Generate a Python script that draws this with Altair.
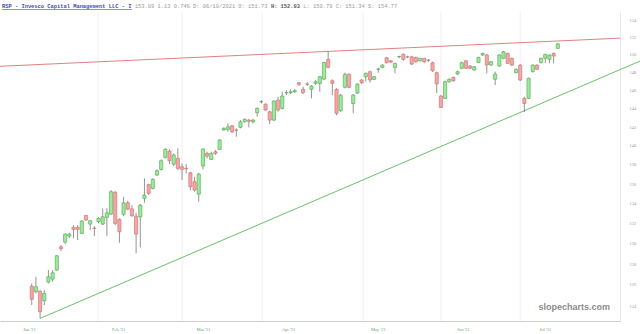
import altair as alt
import pandas as pd

# ---- daily candles (bar index, open, high, low, close) ----
opens = [125.89, 125.35, 125.42, 124.50, 126.28, 126.56, 127.43, 129.70, 130.16, 130.75,
         131.62, 131.62, 131.02, 132.82, 131.95, 131.55, 132.18, 131.95, 132.62, 132.95,
         135.16, 132.42, 132.92, 134.09, 133.48, 132.75, 132.68, 134.54, 135.95, 135.56,
         136.94, 137.53, 138.78, 139.45, 138.08, 138.68, 137.80, 137.64, 137.18, 136.25,
         134.98, 137.88, 139.21, 138.57, 139.38, 139.63, 141.69, 141.76, 142.15, 141.69,
         141.98, 142.62, 142.76, 142.58, 143.56, 144.75, 144.50, 143.66, 142.76, 144.94,
         144.03, 145.75, 145.75, 145.86, 146.86, 146.13, 146.72, 146.13, 146.79, 146.79,
         147.27, 149.48, 147.08, 146.13, 143.77, 146.35, 147.80, 144.57, 145.72, 147.16,
         147.53, 148.09, 147.24, 148.36, 148.58, 149.66, 149.32, 148.58, 149.77, 150.05,
         149.77, 149.77, 149.71, 149.32, 149.60, 149.40, 149.10, 147.98, 145.39, 145.13,
         146.97, 147.46, 147.83, 148.47, 149.32, 148.73, 148.28, 149.14, 149.97, 149.97,
         148.84, 147.24, 148.73, 149.60, 150.16, 149.60, 147.98, 148.84, 145.13, 145.13,
         148.09, 148.84, 149.10, 149.60, 149.48, 150.16, 150.74]
highs = [126.15, 126.79, 125.51, 125.51, 127.43, 127.43, 128.89, 129.87, 131.02, 131.08,
         131.85, 131.85, 132.35, 132.85, 132.35, 131.75, 132.62, 133.52, 133.52, 135.39,
         135.29, 132.52, 134.71, 134.30, 133.86, 133.08, 133.96, 136.60, 136.05, 136.60,
         137.53, 138.57, 139.74, 139.63, 139.21, 139.74, 138.16, 138.08, 137.28, 136.77,
         137.18, 139.74, 139.38, 139.38, 139.56, 140.70, 141.98, 142.40, 142.22, 141.87,
         142.76, 142.94, 142.90, 142.90, 144.14, 144.94, 144.57, 143.77, 144.94, 145.31,
         145.86, 146.05, 146.13, 146.16, 146.94, 146.42, 146.94, 146.60, 147.16, 147.61,
         149.21, 150.40, 147.24, 146.24, 145.61, 147.98, 147.91, 145.61, 146.79, 147.27,
         147.98, 148.20, 147.61, 148.54, 148.92, 149.77, 149.40, 149.10, 149.89, 150.16,
         149.89, 149.89, 149.77, 149.66, 149.66, 149.51, 149.21, 148.09, 145.49, 147.08,
         147.35, 147.53, 148.20, 149.21, 149.40, 148.84, 148.73, 149.77, 150.23, 150.09,
         149.29, 148.09, 150.05, 150.43, 150.23, 149.66, 148.47, 148.92, 145.31, 147.42,
         148.92, 148.92, 149.66, 150.12, 150.05, 150.23, 151.35]
lows = [124.10, 125.20, 122.85, 124.10, 126.15, 126.31, 127.36, 129.30, 129.96, 130.53,
        130.53, 130.36, 130.95, 132.28, 131.35, 130.75, 132.02, 131.85, 130.75, 132.85,
        131.85, 130.09, 132.75, 133.35, 132.68, 129.05, 129.64, 134.09, 134.88, 135.46,
        136.84, 137.39, 138.68, 138.08, 137.88, 137.46, 136.42, 137.12, 135.39, 135.22,
        134.20, 137.53, 138.68, 138.50, 139.03, 139.56, 141.62, 141.51, 141.40, 140.97,
        141.87, 142.47, 141.98, 142.40, 143.12, 144.57, 143.77, 142.33, 142.65, 143.66,
        143.92, 145.49, 145.61, 145.72, 146.49, 145.61, 146.49, 145.13, 146.60, 145.86,
        147.16, 148.47, 145.49, 143.30, 143.66, 146.24, 146.24, 143.49, 145.61, 146.72,
        146.97, 146.86, 147.16, 147.98, 148.50, 149.03, 149.06, 147.91, 149.63, 149.32,
        149.63, 148.84, 149.10, 149.21, 149.06, 149.17, 148.06, 145.72, 144.07, 145.05,
        146.86, 146.97, 147.72, 148.39, 148.39, 148.39, 148.20, 149.06, 149.86, 147.91,
        148.73, 146.60, 148.65, 149.51, 148.95, 148.73, 147.91, 147.05, 143.63, 145.05,
        148.02, 148.28, 149.03, 149.06, 149.03, 149.03, 150.66]
closes = [124.64, 125.83, 123.47, 125.20, 126.79, 127.17, 128.82, 129.50, 130.95, 130.95,
          131.42, 131.42, 132.25, 132.35, 132.28, 131.52, 132.52, 132.68, 133.08, 135.22,
          132.02, 131.18, 134.09, 133.45, 132.78, 130.95, 133.86, 134.88, 135.05, 136.49,
          137.39, 138.43, 139.63, 138.43, 139.03, 137.64, 137.53, 137.60, 135.73, 135.39,
          137.04, 139.67, 138.92, 139.21, 139.21, 140.62, 141.87, 142.04, 141.48, 141.66,
          142.58, 142.84, 142.62, 142.76, 144.03, 144.77, 143.85, 142.76, 144.83, 143.85,
          145.39, 145.77, 145.86, 145.97, 146.68, 145.75, 146.69, 146.49, 146.97, 147.53,
          149.14, 148.58, 146.79, 143.49, 145.49, 147.80, 146.35, 145.49, 146.72, 146.86,
          147.91, 147.16, 147.53, 148.38, 148.84, 149.10, 149.17, 149.03, 149.80, 149.48,
          149.75, 148.95, 149.21, 149.60, 149.21, 149.38, 148.20, 146.72, 144.14, 146.97,
          147.24, 147.08, 148.09, 149.10, 148.47, 148.47, 148.65, 149.71, 150.14, 148.84,
          149.21, 147.83, 149.97, 150.35, 149.03, 148.84, 148.36, 147.16, 144.57, 147.35,
          148.84, 148.36, 149.60, 150.05, 149.97, 149.86, 151.24]

# ---- axis labels / gridlines (in bar-index units) ----
month_labels = ["Jan '21", "Feb '21", "Mar '21", "Apr '21", "May '21", "Jun '21", "Jul '21"]
month_label_bars = [-0.65, 20.7, 41.0, 61.4, 82.9, 103.3, 122.9]
month_grid_bars = [15.9, 36.0, 55.2, 79.4, 98.0, 117.0]
price_ticks = list(range(124, 156, 2))

# ---- trendlines (bar index, price) ----
resist_bars = [-7.6, 140.9]
resist_prices = [148.7, 151.9]
support_bars = [2, 145.7]
support_prices = [122.85, 149.29]

header_ticker = "RSP - Invesco Capital Management LLC - I"
header_parts = ["153.09 1.13 0.74% D: 06/10/2021 O: 151.73", "H: 152.03",
                "L: 150.79 C: 151.34 S: 154.77"]
watermark = "slopecharts.com"

# ---- tables ----
candles = pd.DataFrame({
    "i": list(range(len(opens))),
    "o": opens, "h": highs, "l": lows, "c": closes,
})
candles["dir"] = ["up" if c >= o else "down" for o, c in zip(opens, closes)]
grid_df = pd.DataFrame({"g": month_grid_bars})
res_df = pd.DataFrame({"i": resist_bars, "p": resist_prices})
sup_df = pd.DataFrame({"i": support_bars, "p": support_prices})

mids = [(a + b) / 2 for a, b in zip(month_label_bars[:-1], month_label_bars[1:])]
expr = ""
for m, lab in zip(mids, month_labels[:-1]):
    expr += f'datum.value < {m} ? "{lab}" : '
expr += f'"{month_labels[-1]}"'

xs = alt.Scale(domain=[-7.6, 140.9], nice=False, zero=False, padding=0)
ys = alt.Scale(type="log", domain=[122.61, 154.94], nice=False, zero=False, padding=0)
xaxis = alt.Axis(values=month_label_bars, labelExpr=expr, ticks=False, grid=False,
                 domainColor="#cccccc", labelFontSize=4.5, labelColor="#6f9f6f",
                 labelPadding=5, labelFont="Liberation Serif", title=None)
yaxis = alt.Axis(orient="right", values=price_ticks, format="d", ticks=False, grid=False,
                 domainColor="#e6e6e6", labelFontSize=4.5, labelColor="#999999",
                 labelPadding=9, labelFont="Liberation Serif", title=None)


def X(f):
    return alt.X(f, type="quantitative", scale=xs, axis=xaxis)


def Y(f):
    return alt.Y(f, type="quantitative", scale=ys, axis=yaxis)


grid = alt.Chart(grid_df).mark_rule(color="#f0f0f0", strokeWidth=1).encode(x=X("g"))

resist = alt.Chart(res_df).mark_line(color="#e57f7f", strokeWidth=1).encode(x=X("i"), y=Y("p"))
support = alt.Chart(sup_df).mark_line(color="#6cbf6c", strokeWidth=1).encode(x=X("i"), y=Y("p"))

base = alt.Chart(candles)
wicks = base.mark_rule(color="#666666", strokeWidth=0.7).encode(x=X("i"), y=Y("l"), y2="h")
bodies = base.mark_bar(size=3.2, strokeWidth=0.6).encode(
    x=X("i"), y=Y("o"), y2="c",
    fill=alt.Fill("dir:N", scale=alt.Scale(domain=["up", "down"], range=["#9fe89f", "#f2a7a7"]), legend=None),
    stroke=alt.Stroke("dir:N", scale=alt.Scale(domain=["up", "down"], range=["#4aa84a", "#cf6b6b"]), legend=None),
)

one = pd.DataFrame({"t": [header_ticker]})
ticker = alt.Chart(one).mark_text(align="left", baseline="middle", font="Liberation Mono",
                                  fontSize=5.4, fontWeight="bold", color="#3d4db7").encode(
    x=alt.value(2), y=alt.value(-6), text="t:N")
underline = alt.Chart(one).mark_rule(color="#3d4db7", strokeWidth=0.6).encode(
    x=alt.value(2), x2=alt.value(132), y=alt.value(-2.5))

cw = 0.6 * 5.4
x0 = 2 + (len(header_ticker) + 1) * cw
hdr_layers = []
colors = ["#9a9a9a", "#555555", "#9a9a9a"]
weights = ["normal", "bold", "normal"]
for part, col, wt in zip(header_parts, colors, weights):
    hdr_layers.append(
        alt.Chart(pd.DataFrame({"t": [part]})).mark_text(
            align="left", baseline="middle", font="Liberation Mono", fontSize=5.4,
            fontWeight=wt, color=col).encode(x=alt.value(x0), y=alt.value(-6), text="t:N"))
    x0 += (len(part) + 1) * cw

wm = alt.Chart(pd.DataFrame({"t": [watermark]})).mark_text(
    align="right", baseline="middle", font="Liberation Sans", fontSize=9,
    fontWeight="bold", color="#8c8c8c").encode(x=alt.value(610), y=alt.value(295), text="t:N")

chart = alt.layer(grid, resist, support, wicks, bodies, ticker, underline, *hdr_layers, wm).properties(
    width=620, height=309,
    autosize=alt.AutoSizeParams(type="none"),
    padding={"left": 0, "top": 12, "right": 20, "bottom": 13},
    background="white",
).configure_view(stroke=None)

chart.save("out.html", embed_options={"renderer": "svg", "actions": False})
